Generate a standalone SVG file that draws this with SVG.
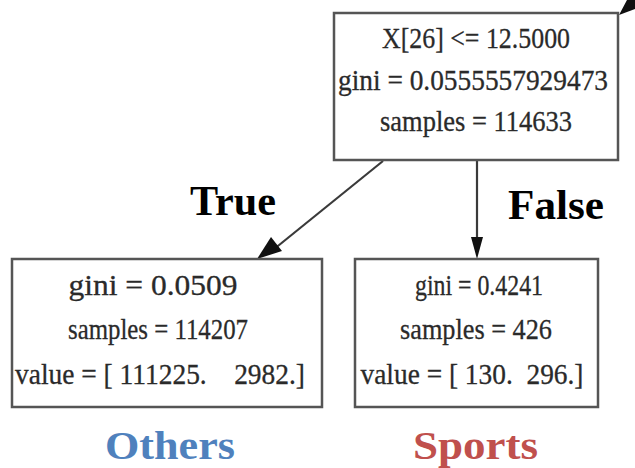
<svg xmlns="http://www.w3.org/2000/svg" width="635" height="468" viewBox="0 0 635 468">
<style>
.box{fill:#ffffff;stroke:#555555;stroke-width:2.5}
.nt{font-family:"Liberation Serif","Times New Roman",serif;font-size:30px;fill:#2a2a2a;stroke:#2a2a2a;stroke-width:0.3;text-anchor:middle;white-space:pre}
.edge{stroke:#3a3a3a;stroke-width:2.2;fill:none}
.head{fill:#111111}
.lbl{font-family:"Liberation Serif","Times New Roman",serif;font-weight:bold;font-size:42px;fill:#000000}
.cls{font-family:"Liberation Serif","Times New Roman",serif;font-weight:bold;font-size:40px}
</style>
<rect width="635" height="468" fill="#ffffff"/>
<g id="connectors">
<line class="edge" x1="383" y1="161" x2="268" y2="254"/>
<polygon class="head" points="257,259 282,251 271,237"/>
<line class="edge" x1="477" y1="161" x2="477" y2="240"/>
<polygon class="head" points="471,237 483,237 477,259"/>
<polygon class="head" points="619,15 627,0 635,0 635,9"/>
</g>
<g id="root">
<rect class="box" x="334" y="13" width="284" height="147"/>
<text class="nt" x="476" y="48" textLength="188" lengthAdjust="spacingAndGlyphs">X[26] &lt;= 12.5000</text>
<text class="nt" x="473" y="90" textLength="270" lengthAdjust="spacingAndGlyphs">gini = 0.0555557929473</text>
<text class="nt" x="476" y="131" textLength="192" lengthAdjust="spacingAndGlyphs">samples = 114633</text>
</g>
<g id="left">
<rect class="box" x="12" y="259" width="310" height="148"/>
<text class="nt" x="153" y="295" textLength="169" lengthAdjust="spacingAndGlyphs">gini = 0.0509</text>
<text class="nt" x="158" y="339" textLength="180" lengthAdjust="spacingAndGlyphs">samples = 114207</text>
<text class="nt" x="160" y="384" textLength="290" lengthAdjust="spacingAndGlyphs">value = [ 111225.    2982.]</text>
</g>
<g id="right">
<rect class="box" x="355" y="259" width="243" height="148"/>
<text class="nt" x="479" y="295" textLength="128" lengthAdjust="spacingAndGlyphs">gini = 0.4241</text>
<text class="nt" x="476" y="339" textLength="152" lengthAdjust="spacingAndGlyphs">samples = 426</text>
<text class="nt" x="472" y="384" textLength="223" lengthAdjust="spacingAndGlyphs">value = [ 130.  296.]</text>
</g>
<g id="labels">
<text class="lbl" x="190" y="215" textLength="86" lengthAdjust="spacingAndGlyphs">True</text>
<text class="lbl" x="508" y="219" textLength="96" lengthAdjust="spacingAndGlyphs">False</text>
<text class="cls" x="105" y="459" fill="#4F81BD" textLength="130" lengthAdjust="spacingAndGlyphs">Others</text>
<text class="cls" x="413" y="459" fill="#C0504D" textLength="125" lengthAdjust="spacingAndGlyphs">Sports</text>
</g>
</svg>
